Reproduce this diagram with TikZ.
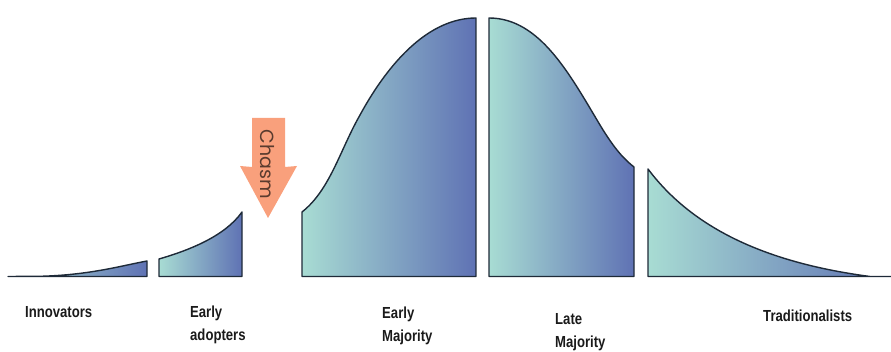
\documentclass[tikz,border=0pt]{standalone}
\usepackage{fontspec}
\setmainfont{Liberation Sans}
\newfontfamily\labfont[FakeStretch=0.82]{Liberation Sans}
\newfontfamily\chasmfont{Poppins}
\definecolor{tealc}{HTML}{A8DCD3}
\definecolor{bluec}{HTML}{5F72B4}
\definecolor{edgec}{HTML}{1E2A38}
\definecolor{arrowc}{HTML}{F9A07C}
\definecolor{chasmtxt}{HTML}{5A3B2E}
\definecolor{labc}{HTML}{1A1A1A}
\tikzset{
  seg/.style={left color=tealc, right color=bluec, draw=edgec, line width=1.4pt, line join=round},
  lab/.style={anchor=north west, inner sep=0pt, align=left, text=labc,
    font=\labfont\bfseries\fontsize{16}{23}\selectfont},
}
\begin{document}
\begin{tikzpicture}[x=1pt,y=-1pt]
\useasboundingbox (0,0) rectangle (891,352);
% Innovators
\shadedraw[seg] (8,276.5) -- (40,276.3) .. controls (90,275) and (120,266) .. (147,261) -- (147,276.5) -- cycle;
% Early adopters
\shadedraw[seg] (159,276.5) -- (159,259) .. controls (190,250) and (225,236) .. (242,212) -- (242,276.5) -- cycle;
% Early majority
\shadedraw[seg] (302,276.5) -- (302,212) .. controls (330,190) and (340,150) .. (360,115) .. controls (390,60) and (430,18) .. (476,18) -- (476,276.5) -- cycle;
% Late majority
\shadedraw[seg] (489,276.5) -- (489,18) .. controls (540,18) and (570,75) .. (600,125) .. controls (615,150) and (625,160) .. (634,167) -- (634,276.5) -- cycle;
% Traditionalists
\shadedraw[seg] (648,276.5) -- (648,169) .. controls (690,225) and (760,262) .. (870,276.5) -- (891,276.5) -- cycle;
% Chasm arrow
\fill[arrowc] (252,118) -- (285,118) -- (285,167) -- (297,166) -- (268,218) -- (240,166) -- (252,167) -- cycle;
\node[rotate=-90, text=chasmtxt, font=\chasmfont\fontsize{19}{19}\selectfont, inner sep=0pt] (chasm) at (267,164) {Chasm};
% Labels
\node[lab] (innov) at (25,306.5) {Innovators};
\node[lab] (adopt) at (190,305.5) {Early\\adopters};
\node[lab] (early) at (382,306.5) {Early\\Majority};
\node[lab] (late) at (555,313.5) {Late\\Majority};
\node[lab] (trad) at (763,309.5) {Traditionalists};
\end{tikzpicture}
\end{document}
